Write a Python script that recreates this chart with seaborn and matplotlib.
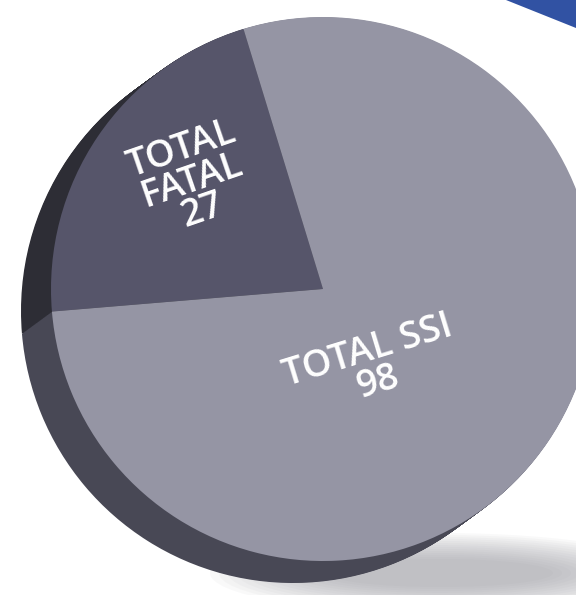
import numpy as np
import matplotlib.pyplot as plt
import seaborn as sns
from matplotlib.patches import Polygon, Ellipse

# Данные диаграммы
labels = ['TOTAL\nFATAL', 'TOTAL SSI']
values = [27, 98]

face_colors = ['#56556a', '#9595a4']
rim_colors = ['#2d2d35', '#484855']

sns.set_theme(style='white')
plt.rcParams['font.family'] = ['Open Sans', 'DejaVu Sans']

W, H = 576, 595
fig = plt.figure(figsize=(W / 100, H / 100), dpi=100)
ax = fig.add_axes([0, 0, 1, 1])

# Положение и размер круга (в пикселях, y вверх)
cx, cy, r = 323, 306, 272
dx, dy = -30, -22
start = 107

# Мягкая тень снизу справа
for k in range(14):
    ax.add_patch(Ellipse((440, 22), 460 - k * 18, 80 - k * 4,
                         color='#8f8f96', alpha=0.05, lw=0, zorder=0))

# Декор в правом верхнем углу
ax.add_patch(Polygon([(506, H), (W, H), (W, H - 28)], closed=True,
                     color='#3152a3', lw=0, zorder=0))

# Боковая грань (толщина диска)
for t in np.linspace(1, 0.02, 36):
    ax.pie(values, center=(cx + dx * t, cy + dy * t), radius=r,
           startangle=start, colors=rim_colors, frame=True,
           wedgeprops=dict(linewidth=0))

# Верхняя грань
wedges, _ = ax.pie(values, center=(cx, cy), radius=r, startangle=start,
                   colors=face_colors, frame=True,
                   wedgeprops=dict(linewidth=0))

ax.set_xlim(0, W)
ax.set_ylim(0, H)
ax.set_aspect('equal')
ax.axis('off')

# Подписи
ax.text(192, 415, f'{labels[0]}\n{values[0]}', color='white', fontsize=27,
        fontweight='semibold', ha='center', va='center', rotation=19,
        linespacing=0.82, multialignment='center', zorder=5)
ax.text(373, 228, f'{labels[1]}\n{values[1]}', color='white', fontsize=27,
        fontweight='semibold', ha='center', va='center', rotation=17,
        linespacing=0.82, multialignment='center', zorder=5)

fig.savefig('out.png', dpi=100, facecolor='white')
